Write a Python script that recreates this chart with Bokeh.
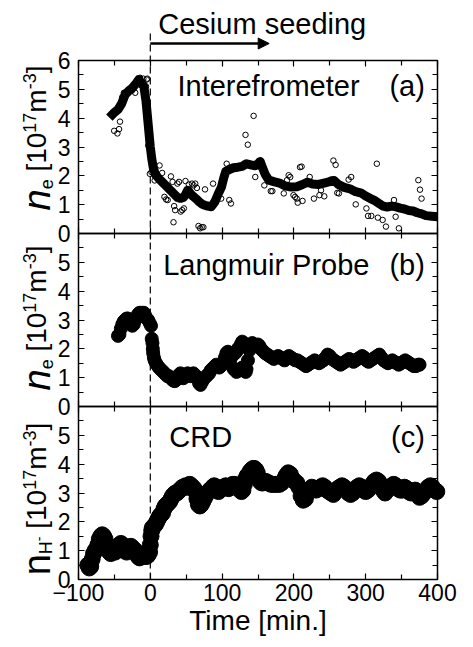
import math
from bokeh.plotting import figure
from bokeh.models import (Range1d, FixedTicker, LinearAxis, Arrow, NormalHead,
                          Label, CustomJSTickFormatter)
from bokeh.embed import file_html
from bokeh.resources import INLINE

# ---------------- data ----------------
# (a) interferometer: raw points (open circles)
interf_t = [-50.3, -45.8, -43.5, -42.2, -39.0, -36.8, -25.5, -21.0, -16.4, -14.2,
            -9.7, -5.1, -4.2, -6.0, -2.9, -0.6, 1.6, 6.1, 12.9, 16.5,
            19.7, 22.0, 24.2, 28.7, 31.0, 33.2, 34.6, 37.8, 40.0, 42.3,
            44.5, 46.8, 49.0, 53.6, 58.0, 60.3, 62.6, 64.9, 67.1, 69.4,
            71.6, 73.9, 32.3, 76.2, 87.4, 98.7, 106.4, 110.0, 112.3, 132.6,
            135.8, 143.9, 146.2, 158.8, 167.8, 170.0, 185.9, 190.4, 192.7, 194.9,
            199.4, 201.7, 204.0, 205.3, 208.5, 210.7, 212.0, 219.8, 222.0, 227.9,
            235.6, 237.8, 242.3, 251.4, 255.0, 258.1, 260.4, 262.7, 276.2, 279.8,
            286.1, 301.0, 303.3, 307.8, 316.9, 323.6, 315.5, 328.2, 339.4, 341.7,
            346.2, 373.3, 375.6, 377.8]
interf_v = [3.56, 3.47, 3.62, 3.88, 4.73, 4.88, 4.96, 4.88, 5.34, 5.40,
            5.37, 5.34, 5.37, 5.10, 3.05, 2.07, 2.13, 1.84, 2.36, 2.10,
            1.27, 1.18, 1.16, 1.98, 1.79, 0.95, 0.81, 1.73, 1.79, 0.76,
            0.81, 0.87, 1.82, 1.70, 1.73, 1.67, 1.73, 1.58, 0.26, 0.18,
            0.22, 0.22, 0.39, 1.53, 1.73, 1.21, 2.42, 1.16, 1.04, 3.42,
            3.08, 4.08, 1.96, 1.67, 1.47, 1.47, 1.39, 1.85, 2.02, 1.96,
            1.33, 1.27, 1.21, 1.07, 2.30, 2.32, 1.13, 1.79, 1.96, 1.21,
            1.33, 1.50, 1.29, 1.87, 2.53, 2.38, 1.41, 1.39, 1.87, 1.96,
            1.01, 0.87, 0.61, 0.61, 0.55, 0.47, 2.42, 0.24, 1.16, 0.58,
            0.18, 1.85, 1.52, 1.21]
# (a) interferometer: smoothed curve (thick line)
smooth_t = [-57, -50, -45, -40, -35, -30, -25, -20, -16, -12,
            -9, -6, -3, 0, 2, 4, 7, 10, 14, 18,
            22, 26, 30, 34, 38, 42, 46, 49, 52, 54,
            57, 60, 64, 68, 72, 76, 80, 85, 90, 95,
            99, 102, 105, 110, 116, 122, 128, 134, 140, 146,
            150, 153, 156, 160, 165, 172, 180, 188, 196, 204,
            212, 219, 226, 234, 242, 250, 256, 262, 270, 278,
            286, 294, 300, 306, 312, 318, 324, 330, 336, 342,
            348, 354, 360, 366, 372, 378, 384, 392, 400]
smooth_v = [4.02, 4.2, 4.3, 4.5, 4.82, 4.95, 5.05, 5.2, 5.34, 5.2,
            5.1, 4.6, 3.8, 3.0, 2.6, 2.3, 2.05, 1.96, 1.85, 1.75,
            1.65, 1.55, 1.45, 1.35, 1.25, 1.22, 1.25, 1.35, 1.5, 1.45,
            1.35, 1.28, 1.2, 1.1, 1.02, 0.98, 0.95, 0.93, 1.1, 1.4,
            1.6, 1.9, 2.15, 2.22, 2.28, 2.3, 2.33, 2.42, 2.38, 2.35,
            2.42, 2.5, 2.3, 2.05, 1.85, 1.8, 1.75, 1.65, 1.61, 1.62,
            1.7, 1.78, 1.72, 1.7, 1.75, 1.8, 1.84, 1.7, 1.6, 1.55,
            1.45, 1.4, 1.3, 1.22, 1.15, 1.05, 0.95, 0.92, 0.95, 0.93,
            0.88, 0.85, 0.8, 0.78, 0.72, 0.68, 0.62, 0.6, 0.58]

# (b) Langmuir probe
probe_t = [-45, -43, -41, -39, -37, -35, -33, -31, -29, -27,
           -25, -23, -21, -19, -17, -15, -13, -11, -9, -7,
           -5, -3, -1, 1, 2, 3, 3.5, 4, 5, 6,
           8, 10, 12, 14, 16, 18, 20, 22, 24, 26,
           28, 30, 32, 34, 36, 38, 40, 42, 44, 46,
           48, 50, 52, 54, 56, 58, 60, 62, 64, 66,
           68, 70, 72, 74, 76, 78, 80, 82, 84, 86,
           88, 90, 92, 94, 96, 98, 100, 102, 104, 106,
           108, 110, 112, 114, 116, 118, 120, 122, 124, 126,
           128, 130, 132, 133, 134, 136, 138, 140, 142, 144,
           146, 148, 150, 152, 154, 156, 158, 160, 163, 166,
           169, 172, 175, 178, 181, 184, 187, 190, 193, 196,
           199, 202, 205, 208, 211, 214, 217, 220, 223, 226,
           229, 232, 235, 238, 241, 244, 247, 250, 253, 256,
           259, 262, 265, 268, 271, 274, 277, 280, 283, 286,
           289, 292, 295, 298, 301, 304, 307, 310, 313, 316,
           319, 322, 325, 328, 331, 334, 337, 340, 343, 346,
           349, 352, 355, 358, 361, 364, 367, 370, 373, 375,
           112, 116, 120, 124, 128]
probe_v = [2.45, 2.5, 2.7, 2.85, 2.95, 3.0, 3.05, 3.05, 2.95, 2.85,
           2.8, 2.85, 3.0, 3.1, 3.2, 3.25, 3.25, 3.25, 3.25, 3.15,
           3.05, 3.0, 2.9, 2.8, 2.35, 2.2, 2.0, 1.85, 1.7, 1.6,
           1.5, 1.42, 1.35, 1.3, 1.25, 1.2, 1.15, 1.1, 1.05, 1.05,
           1.0, 0.95, 0.9, 0.88, 0.92, 1.0, 1.1, 1.15, 1.05, 0.98,
           1.05, 1.1, 1.15, 1.1, 1.05, 1.1, 1.15, 1.1, 1.05, 0.95,
           0.8, 0.75, 0.85, 0.95, 1.0, 1.05, 1.1, 1.15, 1.25, 1.3,
           1.35, 1.4, 1.45, 1.4, 1.35, 1.4, 1.45, 1.55, 1.7, 1.85,
           1.9, 1.85, 1.8, 1.75, 1.8, 1.85, 1.9, 2.0, 2.05, 2.15,
           2.25, 2.2, 1.4, 1.2, 1.3, 1.6, 1.95, 2.15, 2.2, 2.15,
           2.1, 2.1, 2.15, 2.1, 2.0, 1.95, 1.9, 1.85, 1.8, 1.75,
           1.7, 1.65, 1.7, 1.75, 1.7, 1.65, 1.6, 1.7, 1.75, 1.7,
           1.65, 1.6, 1.6, 1.55, 1.5, 1.45, 1.4, 1.45, 1.5, 1.55,
           1.6, 1.55, 1.5, 1.55, 1.6, 1.7, 1.8, 1.75, 1.65, 1.6,
           1.55, 1.5, 1.45, 1.5, 1.55, 1.6, 1.65, 1.6, 1.55, 1.6,
           1.65, 1.7, 1.75, 1.7, 1.6, 1.55, 1.6, 1.65, 1.7, 1.75,
           1.8, 1.7, 1.6, 1.55, 1.5, 1.55, 1.6, 1.55, 1.5, 1.45,
           1.5, 1.55, 1.6, 1.55, 1.5, 1.45, 1.4, 1.4, 1.45, 1.45,
           1.45, 1.3, 1.2, 1.25, 1.35]

# (c) CRD
crd_t = [-87, -85, -83, -81, -79, -77, -75, -73, -71, -69,
         -67, -65, -63, -61, -59, -57, -55, -53, -51, -49,
         -47, -45, -43, -41, -39, -37, -35, -33, -31, -29,
         -27, -25, -23, -21, -19, -17, -15, -13, -11, -9,
         -7, -5, -3, -1, 0, 1, 2, 3, 5, 7,
         9, 11, 13, 15, 17, 19, 21, 23, 25, 27,
         29, 31, 33, 35, 37, 39, 41, 43, 45, 47,
         49, 51, 53, 55, 57, 59, 61, 63, 65, 67,
         69, 71, 73, 75, 77, 79, 81, 83, 85, 87,
         89, 91, 93, 95, 97, 99, 101, 103, 105, 107,
         109, 111, 113, 115, 117, 119, 121, 123, 125, 127,
         129, 131, 133, 135, 137, 139, 141, 143, 145, 147,
         149, 151, 153, 155, 157, 159, 161, 163, 165, 168,
         171, 174, 177, 180, 183, 186, 189, 192, 195, 198,
         201, 204, 207, 210, 213, 216, 219, 222, 225, 228,
         231, 234, 237, 240, 243, 246, 249, 252, 255, 258,
         261, 264, 267, 270, 273, 276, 279, 282, 285, 288,
         291, 294, 297, 300, 303, 306, 309, 312, 315, 318,
         321, 324, 327, 330, 333, 336, 339, 342, 345, 348,
         351, 354, 357, 360, 363, 366, 369, 372, 375, 378,
         381, 384, 387, 390, 393, 396, 399]
crd_v = [0.5, 0.4, 0.45, 0.7, 0.9, 1.0, 1.05, 1.2, 1.4, 1.5,
         1.55, 1.5, 1.4, 1.2, 1.05, 0.95, 0.9, 0.95, 1.0, 0.95,
         1.05, 1.15, 1.2, 1.25, 1.2, 1.1, 1.0, 0.95, 1.0, 1.1,
         1.15, 1.1, 1.05, 1.0, 0.9, 0.8, 0.75, 0.8, 0.85, 0.85,
         0.8, 0.8, 0.85, 0.95, 1.2, 1.5, 1.7, 1.8, 1.85, 1.9,
         2.0, 2.1, 2.2, 2.25, 2.3, 2.45, 2.55, 2.6, 2.65, 2.7,
         2.8, 2.9, 2.95, 3.0, 3.0, 3.05, 3.1, 3.15, 3.2, 3.2,
         3.25, 3.2, 3.25, 3.3, 3.25, 3.2, 3.15, 3.05, 2.8, 2.6,
         2.55, 2.6, 2.7, 2.8, 2.9, 3.0, 3.05, 3.1, 3.15, 3.2,
         3.25, 3.2, 3.1, 3.05, 3.1, 3.15, 3.2, 3.2, 3.25, 3.2,
         3.15, 3.2, 3.25, 3.3, 3.3, 3.25, 3.2, 3.15, 3.1, 3.05,
         3.1, 3.3, 3.5, 3.6, 3.65, 3.75, 3.8, 3.85, 3.85, 3.8,
         3.7, 3.5, 3.4, 3.35, 3.35, 3.4, 3.4, 3.35, 3.35, 3.3,
         3.3, 3.3, 3.3, 3.3, 3.35, 3.45, 3.6, 3.7, 3.65, 3.5,
         3.4, 3.35, 3.2, 2.9, 2.75, 2.8, 3.0, 3.1, 3.2, 3.15,
         3.1, 3.15, 3.2, 3.25, 3.2, 3.1, 3.05, 3.0, 2.95, 3.05,
         3.15, 3.2, 3.25, 3.2, 3.1, 3.0, 2.95, 3.0, 3.1, 3.2,
         3.25, 3.2, 3.1, 3.05, 3.1, 3.2, 3.3, 3.4, 3.45, 3.4,
         3.25, 3.1, 3.0, 3.1, 3.2, 3.25, 3.3, 3.25, 3.15, 3.1,
         3.1, 3.2, 3.15, 3.05, 3.0, 3.05, 3.1, 2.95, 2.85, 2.9,
         3.0, 3.1, 3.2, 3.25, 3.2, 3.1, 3.05]

x_major = [-100, 0, 100, 200, 300, 400]
x_minor = [-50, 50, 150, 250, 350]
y_major_a = [0, 1, 2, 3, 4, 5, 6]
y_major_bc = [0, 1, 2, 3, 4, 5]
y_minor = [0.5, 1.5, 2.5, 3.5, 4.5, 5.5]
seeding_start = 0
panel_names = ["Interefrometer", "Langmuir Probe", "CRD"]
panel_tags = ["(a)", "(b)", "(c)"]
x_title = "Time [min.]"
arrow_title = "Cesium seeding"

# ---------------- layout constants ----------------
FONT = "Liberation Sans"
W, H = 457, 636
BL = 78            # px from canvas left to t=-100
PXR = 437          # px of t=400
TOP = 60           # px above panel (a)
PH = 173           # px height of each panel
X0, X1 = -100, 400
PPM = (PXR - BL) / (X1 - X0)          # px per minute
PPU = PH / 6.0                        # px per density unit
XL = X0 - BL / PPM
XR = X1 + (W - PXR) / PPM             # frame spans the whole canvas
YB = -(H - TOP - 3 * PH) / PPU        # main range bottom (below panel c)
YT = 18 + TOP / PPU                   # main range top (above panel a)
OFFS = {"a": 12, "b": 6, "c": 0}      # panel offsets in the stacked main range
BASE_FIX = 0.34                       # label baseline correction (fraction of font size)

p = figure(width=W, height=H, x_range=Range1d(XL, XR), y_range=Range1d(YB, YT),
           output_backend="svg", toolbar_location=None,
           x_axis_location=None, y_axis_location=None,
           min_border_left=0, min_border_right=0,
           min_border_top=0, min_border_bottom=0)
p.outline_line_color = None
p.grid.visible = False
p.background_fill_color = "white"
p.border_fill_color = "white"
for k, off in OFFS.items():
    p.extra_y_ranges[k] = Range1d(YB - off, YT - off)


def style_axis(ax, ticks, minor, labels, standoff=5):
    ax.ticker = FixedTicker(ticks=ticks, minor_ticks=minor)
    ax.major_tick_in = 6
    ax.major_tick_out = 0
    ax.minor_tick_in = 5
    ax.minor_tick_out = 0
    ax.major_tick_line_color = "black"
    ax.minor_tick_line_color = "black"
    ax.major_tick_line_width = 1.2
    ax.minor_tick_line_width = 1.2
    ax.axis_line_color = None
    if labels:
        ax.major_label_text_font = FONT
        ax.major_label_text_font_size = "23px"
        ax.major_label_text_color = "black"
        ax.major_label_standoff = standoff
    else:
        ax.formatter = CustomJSTickFormatter(code="return ''")
        ax.major_label_text_font_size = "0px"
        ax.major_label_standoff = 0


# panel frames
p.quad(left=[X0] * 3, right=[X1] * 3, bottom=[OFFS[k] for k in "abc"],
       top=[OFFS[k] + 6 for k in "abc"], fill_color=None, line_color="black",
       line_width=1.5)

# axes of every panel (left labelled, others ticks only)
for k in "abc":
    ymaj = y_major_a if k == "a" else y_major_bc
    la = LinearAxis(y_range_name=k, fixed_location=X0)
    style_axis(la, ymaj, y_minor, True, standoff=8)
    p.add_layout(la, "left")
    ra = LinearAxis(y_range_name=k, fixed_location=X1)
    style_axis(ra, ymaj, y_minor, False)
    p.add_layout(ra, "right")
    ab = LinearAxis(fixed_location=OFFS[k] + 6)
    style_axis(ab, x_major, x_minor, False)
    p.add_layout(ab, "above")
    be = LinearAxis(fixed_location=OFFS[k])
    style_axis(be, x_major, x_minor, k == "c", standoff=4)
    p.add_layout(be, "below")

# ---------------- data glyphs ----------------
p.scatter(x=interf_t, y=interf_v, y_range_name="a", marker="circle", size=5.5,
          fill_color=None, line_color="black", line_width=1)
p.line(x=smooth_t, y=smooth_v, y_range_name="a", line_color="black", line_width=9,
       line_join="round")
p.scatter(x=probe_t, y=probe_v, y_range_name="b", marker="circle", size=13,
          fill_color="black", line_color="black")
p.scatter(x=crd_t, y=crd_v, y_range_name="c", marker="circle", size=16,
          fill_color="black", line_color="black")


# ---------------- texts ----------------
def lab(text, x, y, rng, size, align="left", angle=0.0, style="normal"):
    if angle == 0.0:
        y = y + BASE_FIX * size / PPU
    p.add_layout(Label(x=x, y=y, y_range_name=rng, text=text, text_font=FONT,
                       text_font_size=f"{size}px", text_font_style=style,
                       text_align=align, text_baseline="alphabetic",
                       angle=angle, text_color="black"))


# baselines given in px above each panel's bottom edge
name_x = {"a": 37.8, "b": 17.9, "c": 26.4}
name_base = {"a": 138, "b": 132, "c": 133}
for i, k in enumerate("abc"):
    lab(panel_names[i], name_x[k], name_base[k] / PPU, k, 29)
    lab(panel_tags[i], 382.4, name_base[k] / PPU, k, 29, align="right")

ARIAL = {'n': 556, 'e': 556, ' ': 278, '[': 278, ']': 278, '0': 556, '1': 556,
         '7': 556, 'm': 833, '-': 333, '3': 556, 'H': 722}


def text_w(s, size):
    return sum(ARIAL[c] for c in s) * size / 1000.0


def add_ylabel(rng, pieces, center_px_up, base_px=32):
    total = sum(text_w(s, sz) + gap for s, sz, st, sh, gap in pieces)
    y = 3 + (center_px_up - total / 2) / PPU
    for s, sz, st, sh, gap in pieces:
        y += gap / PPU
        t = X0 - (base_px - sh + BASE_FIX * sz) / PPM
        lab(s, t, y, rng, sz, angle=math.pi / 2, style=st)
        y += text_w(s, sz) / PPU


SP = text_w(" ", 28)
ne_pieces = [("n", 38, "italic", 3, 0), ("e", 18, "normal", 6, 0),
             ("[10", 28, "normal", 0, SP), ("17", 18, "normal", -11, 0),
             ("m", 28, "normal", 0, 0), ("-3", 18, "normal", -11, 0),
             ("]", 28, "normal", 0, 0)]
nh_pieces = [("n", 38, "normal", 3, 0), ("H", 18, "normal", 6, 0),
             ("-", 14, "normal", -3, 0), ("[10", 28, "normal", 0, SP),
             ("17", 18, "normal", -11, 0), ("m", 28, "normal", 0, 0),
             ("-3", 18, "normal", -11, 0), ("]", 28, "normal", 0, 0)]
add_ylabel("a", ne_pieces, 9)
add_ylabel("b", ne_pieces, 2)
add_ylabel("c", nh_pieces, -6)

# x axis title (baseline 51 px below panel c)
lab(x_title, 150, -51 / PPU, "c", 28, align="center")

# seeding marker: dashed line, arrow and its text
p.add_layout(Arrow(end=None, x_start=seeding_start, y_start=0, x_end=seeding_start,
                   y_end=18 + 30 / PPU, line_color="black", line_width=1.2,
                   line_dash="7 4"))
p.add_layout(Arrow(end=NormalHead(size=11, fill_color="black", line_color="black"),
                   x_start=seeding_start, y_start=18 + 17 / PPU, x_end=165.6,
                   y_end=18 + 17 / PPU, line_color="black", line_width=2.5))
lab(arrow_title, 11.1, 6 + 27 / PPU, "a", 29)

open("out.html", "w").write(file_html(p, INLINE))
